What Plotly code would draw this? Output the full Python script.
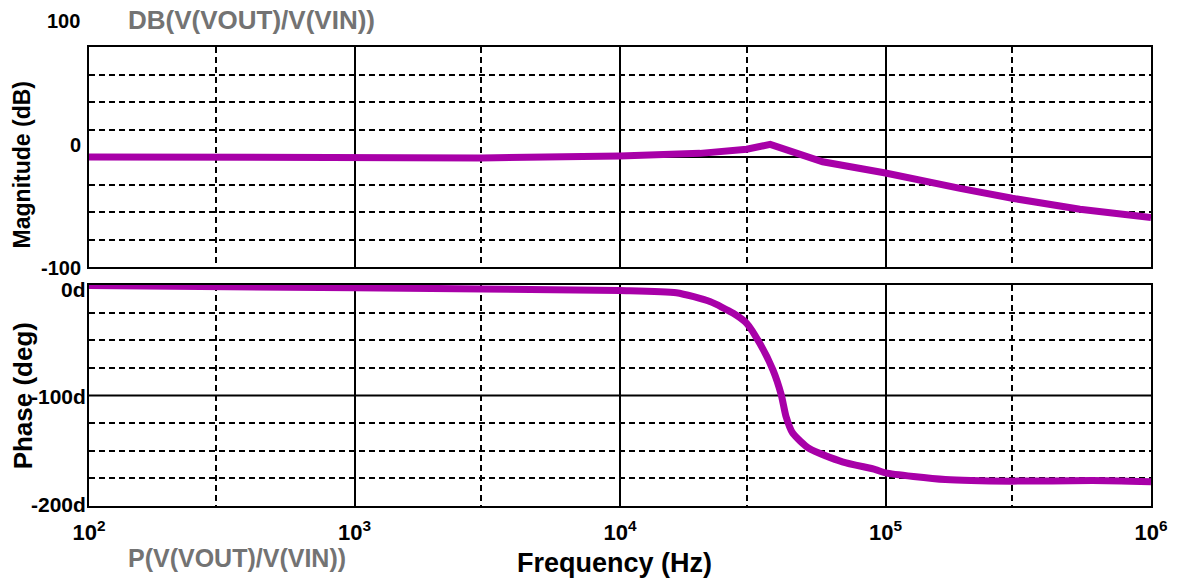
import plotly.graph_objects as go

# ---- data ----
freq_mag = [100, 300, 1000, 3000, 10000, 16000, 20000, 30000, 36800, 58000,
            100000, 191000, 300000, 540000, 1000000]
mag_db = [0, -0.5, -1.0, -0.8, 0.8, 2.3, 3.3, 7.0, 11.5, -4.3,
          -14.5, -28.5, -37.5, -47.5, -55.0]

freq_ph = [100, 1000, 10000, 16300, 21800, 26700, 30000, 33600, 37700, 40500,
           42200, 44700, 51600, 68800, 91700, 100000, 168000, 300000, 600000, 1000000]
phase_deg = [-0.5, -2.5, -5.0, -7.0, -15.0, -25.6, -34.7, -52.8, -77.0, -99.5,
             -119.0, -134.0, -148.0, -160.0, -167.0, -170.0, -176.0, -177.5, -177.0, -178.0]

decade_ticks = [100, 1000, 10000, 100000, 1000000]
decade_labels = ["<b>10<sup>2</sup></b>", "<b>10<sup>3</sup></b>", "<b>10<sup>4</sup></b>",
                 "<b>10<sup>5</sup></b>", "<b>10<sup>6</sup></b>"]
minor_x = [300, 3000, 30000, 300000]
mag_grid = [-75, -50, -25, 25, 50, 75]
ph_grid = [-175, -150, -125, -75, -50, -25]

W, H = 1180, 579
L, R, T, B = 89, 23, 47, 73
plot_h = H - T - B
plot_w = W - L - R


def px(x):
    return (x - L) / plot_w


def py(y):
    return (H - B - y) / plot_h


CURVE = "#A800A8"
GREY = "#737373"
FONT = "Liberation Sans, Arial, sans-serif"

fig = go.Figure()
fig.add_trace(go.Scatter(x=freq_mag, y=mag_db, mode="lines",
                         line=dict(color=CURVE, width=7),
                         xaxis="x", yaxis="y", showlegend=False))
fig.add_trace(go.Scatter(x=freq_ph, y=phase_deg, mode="lines",
                         line=dict(color=CURVE, width=7, shape="spline", smoothing=0.6),
                         xaxis="x2", yaxis="y2", showlegend=False))

xcommon = dict(type="log", range=[2, 6], showline=True, mirror=True,
               linecolor="black", linewidth=2,
               tickmode="array", tickvals=decade_ticks,
               showgrid=True, gridcolor="black", gridwidth=1.8,
               zeroline=False, ticks="",
               minor=dict(tickmode="array", tickvals=minor_x, showgrid=True,
                          gridcolor="black", gridwidth=1.8, griddash="6px,4px", ticks=""))

top_dom = [py(267), 1.0]
bot_dom = [0.0, py(285)]

fig.update_layout(
    width=W, height=H,
    margin=dict(l=L, r=R, t=T, b=B),
    paper_bgcolor="white", plot_bgcolor="white",
    font=dict(family=FONT, color="black"),
    xaxis=dict(xcommon, domain=[0, 1], anchor="y", showticklabels=False),
    xaxis2=dict(xcommon, domain=[0, 1], anchor="y2", matches="x",
                ticktext=decade_labels, showticklabels=True,
                tickfont=dict(family=FONT, size=22, color="black"),
                ticklabelstandoff=6),
    yaxis=dict(domain=top_dom, anchor="x", range=[-100, 100],
               showline=True, mirror=True, linecolor="black", linewidth=2,
               tickmode="array", tickvals=mag_grid, showticklabels=False, ticks="",
               showgrid=True, gridcolor="black", gridwidth=1.8, griddash="6px,4px",
               zeroline=True, zerolinecolor="black", zerolinewidth=2),
    yaxis2=dict(domain=bot_dom, anchor="x2", range=[-200, 0],
                showline=True, mirror=True, linecolor="black", linewidth=2,
                tickmode="array", tickvals=ph_grid, showticklabels=False, ticks="",
                showgrid=True, gridcolor="black", gridwidth=1.8, griddash="6px,4px",
                zeroline=False),
)

# solid reference line at -100 deg
fig.add_shape(type="line", xref="x2 domain", x0=0, x1=1, yref="y2", y0=-100, y1=-100,
              line=dict(color="black", width=2), layer="below")

ann = []


def add(text, x, y, size, xanchor="center", color="black", angle=0):
    ann.append(dict(text=text, x=px(x), y=py(y), xref="paper", yref="paper",
                    xanchor=xanchor, yanchor="middle", showarrow=False,
                    textangle=angle,
                    font=dict(family=FONT, size=size, color=color)))


add("<b>DB(V(VOUT)/V(VIN))</b>", 126, 20, 26, "left", GREY)
add("<b>P(V(VOUT)/V(VIN))</b>", 126, 558, 25, "left", GREY)
add("<b>100</b>", 82, 21.5, 20, "right")
add("<b>0</b>", 83, 144.5, 20, "right")
add("<b>-100</b>", 83, 268, 20, "right")
add("<b>0d</b>", 88, 289.5, 21, "right")
add("<b>-100d</b>", 88, 396.5, 21, "right")
add("<b>-200d</b>", 88, 504.5, 21, "right")
add("<b>Magnitude (dB)</b>", 22, 165, 23, "center", angle=-90)
add("<b>Phase (deg)</b>", 23, 396, 26, "center", angle=-90)
add("<b>Frequency (Hz)</b>", 617, 563, 27, "center")

fig.update_layout(annotations=ann)

fig.write_html("out.html")
